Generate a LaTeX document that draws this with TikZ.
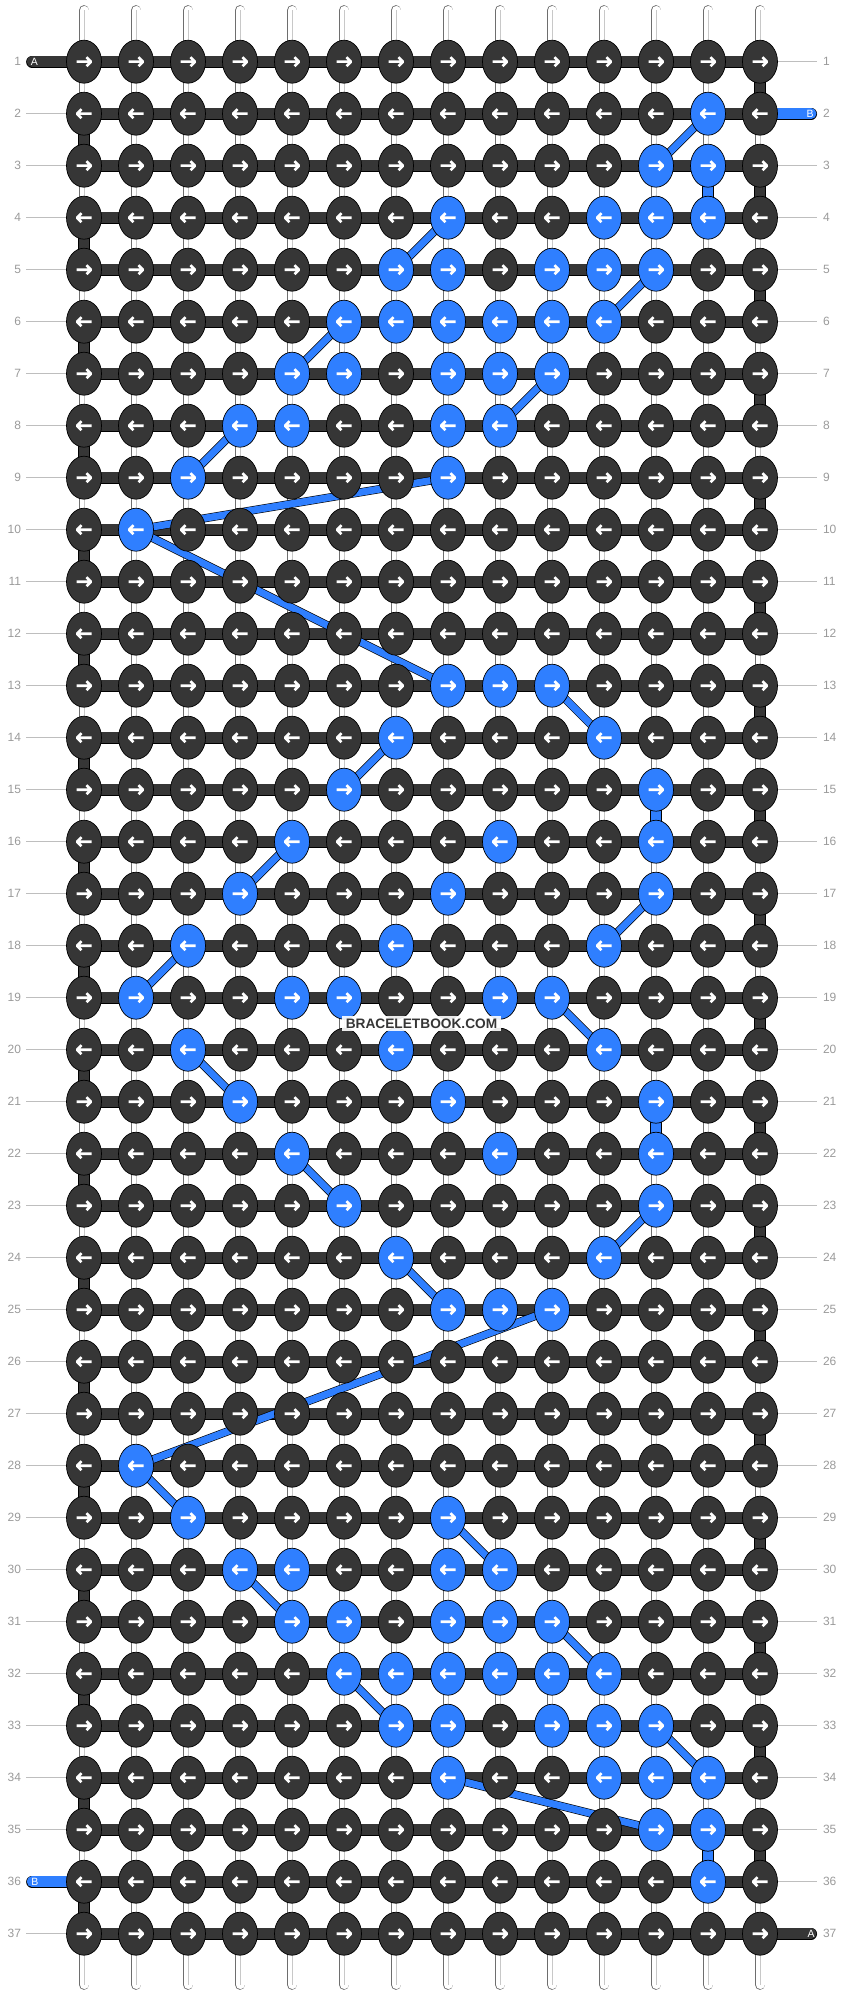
\documentclass[tikz,border=0pt]{standalone}
\usepackage{fontspec}
\setmainfont{Liberation Sans}
\usetikzlibrary{shapes.geometric,backgrounds}

\definecolor{bbdark}{HTML}{363636}
\definecolor{bbblue}{HTML}{2F7FFF}
\definecolor{bbnum}{HTML}{9A9A9A}
\definecolor{bbguide}{HTML}{BEBEBE}
\definecolor{bbwarp}{HTML}{6E6E6E}
\definecolor{bbcore}{HTML}{C8C8C8}

% knots that show the blue string: row/column
\foreach \row/\col in {2/12, 3/11,3/12, 4/7,4/10,4/11,4/12, 5/6,5/7,5/9,5/10,5/11,
    6/5,6/6,6/7,6/8,6/9,6/10, 7/4,7/5,7/7,7/8,7/9, 8/3,8/4,8/7,8/8, 9/2,9/7, 10/1,
    13/7,13/8,13/9, 14/6,14/10, 15/5,15/11, 16/4,16/8,16/11, 17/3,17/7,17/11,
    18/2,18/6,18/10, 19/1,19/4,19/5,19/8,19/9, 20/2,20/6,20/10, 21/3,21/7,21/11,
    22/4,22/8,22/11, 23/5,23/11, 24/6,24/10, 25/7,25/8,25/9,
    28/1, 29/2,29/7, 30/3,30/4,30/7,30/8, 31/4,31/5,31/7,31/8,31/9,
    32/5,32/6,32/7,32/8,32/9,32/10, 33/6,33/7,33/9,33/10,33/11,
    34/7,34/10,34/11,34/12, 35/11,35/12, 36/12}
  {\expandafter\gdef\csname bk-\row-\col\endcsname{}}

\begin{document}
\begin{tikzpicture}[x=1pt, y=-1pt,
    knot/.style={ellipse, draw=black, line width=0.7pt, minimum width=35pt,
      minimum height=43pt, inner sep=0pt},
    arrowline/.style={white, line width=2.6pt, line join=round},
    rarrow/.style={path picture={
      \draw[arrowline, shift={(path picture bounding box.center)}]
        (-7.5,0) -- (7,0) (2.5,-4.5) -- (7,0) -- (2.5,4.5);}},
    larrow/.style={path picture={
      \draw[arrowline, shift={(path picture bounding box.center)}]
        (7.5,0) -- (-7,0) (-2.5,-4.5) -- (-7,0) -- (-2.5,4.5);}},
    darkbar/.style={draw=black, line width=0.6pt, double=bbdark, double distance=10.5pt},
    bluebar/.style={draw=black, line width=0.6pt, double=bbblue, double distance=10.5pt},
    bluelink/.style={draw=black, line width=0.6pt, double=bbblue, double distance=7pt},
    warp/.style={draw=bbwarp, line width=0.8pt, double=white, double distance=9pt, line cap=round},
    warpcore/.style={draw=bbcore, line width=0.8pt},
    guide/.style={draw=bbguide, line width=1pt},
    rownum/.style={text=bbnum, inner sep=0pt, font=\fontsize{12pt}{14pt}\selectfont},
    endtag/.style={text=white, inner sep=0pt, font=\fontsize{10.5pt}{12pt}\selectfont},
    watermark/.style={fill=white, fill opacity=0.9, text opacity=1, text=bbdark,
      inner xsep=4pt, inner ysep=3pt, font=\bfseries\fontsize{13.7pt}{16pt}\selectfont}
  ]
  \useasboundingbox (0,0) rectangle (844,1996);

  % knots
  \foreach \row in {1,...,37}{
    \foreach \col in {0,...,13}{
      \ifcsname bk-\row-\col\endcsname \colorlet{kfill}{bbblue}\else \colorlet{kfill}{bbdark}\fi
      \ifodd\row \tikzset{kdir/.style={rarrow}}\else \tikzset{kdir/.style={larrow}}\fi
      \node[knot, fill=kfill, kdir] (k-\row-\col) at ({84+52*\col},{61.7+52*(\row-1)}) {};
    }
  }

  % row numbers
  \foreach \row in {1,...,37}{
    \node[rownum, anchor=east, outer sep=5pt] (nl-\row) at (26,{61.7+52*(\row-1)}) {\row};
    \node[rownum, anchor=west, outer sep=6pt] (nr-\row) at (817,{61.7+52*(\row-1)}) {\row};
  }
  \foreach \row in {2,...,35,37}
    \draw[guide] (nl-\row) -- (k-\row-0);
  \foreach \row in {1,3,4,...,36}
    \draw[guide] (k-\row-13) -- (nr-\row);

  \begin{pgfonlayer}{background}
    % vertical strings
    \foreach \col in {0,...,13}{
      \coordinate (top-\col) at ({84+52*\col},10.4);
      \coordinate (bot-\col) at ({84+52*\col},1984.6);
      \draw[warp] (top-\col) -- (bot-\col);
      \draw[warpcore] (top-\col) -- (bot-\col);
    }
    % rows of string A
    \foreach \row in {1,...,37}
      \draw[darkbar] (k-\row-0.center) -- (k-\row-13.center);
    % turns of string A at the edges
    \foreach \row/\rowbelow in {1/2,3/4,5/6,7/8,9/10,11/12,13/14,15/16,17/18,
        19/20,21/22,23/24,25/26,27/28,29/30,31/32,33/34,35/36}
      \draw[darkbar] (k-\row-13.center) -- (k-\rowbelow-13.center);
    \foreach \row/\rowbelow in {2/3,4/5,6/7,8/9,10/11,12/13,14/15,16/17,18/19,
        20/21,22/23,24/25,26/27,28/29,30/31,32/33,34/35,36/37}
      \draw[darkbar] (k-\row-0.center) -- (k-\rowbelow-0.center);
    % loose ends
    \coordinate (a-in) at (32,61.7);
    \coordinate (a-out) at (811.2,1933.7);
    \coordinate (b-in) at (811.2,113.7);
    \coordinate (b-out) at (32,1881.7);
    \draw[darkbar, line cap=round] (a-in) -- (k-1-0.center);
    \draw[darkbar, line cap=round] (k-37-13.center) -- (a-out);
    \draw[bluebar, line cap=round] (b-in) -- (k-2-13.center);
    \draw[bluebar, line cap=round] (k-36-0.center) -- (b-out);
    % string B
    \foreach \fr/\fc/\tr in {3/12/4, 15/11/16, 21/11/22, 35/12/36}
      \draw[bluebar] (k-\fr-\fc.center) -- (k-\tr-\fc.center);
    \foreach \fr/\fc/\tr/\tc in {2/12/3/11, 4/7/5/6, 5/11/6/10, 6/5/7/4, 7/9/8/8, 8/3/9/2,
        9/7/10/1, 10/1/13/7, 13/9/14/10, 14/6/15/5, 16/4/17/3, 17/11/18/10, 18/2/19/1,
        19/9/20/10, 20/2/21/3, 22/4/23/5, 23/11/24/10, 24/6/25/7, 25/9/28/1, 28/1/29/2,
        29/7/30/8, 30/3/31/4, 31/9/32/10, 32/5/33/6, 33/11/34/12, 34/7/35/11}
      \draw[bluelink] (k-\fr-\fc.center) -- (k-\tr-\tc.center);
  \end{pgfonlayer}

  \node[endtag] (tag-a-in) at (34.5,61.7) {A};
  \node[endtag] (tag-a-out) at (811,1933.7) {A};
  \node[endtag] (tag-b-in) at (810,113.7) {B};
  \node[endtag] (tag-b-out) at (35,1881.7) {B};

  \node[watermark] (mark) at (421.5,1023.5) {BRACELETBOOK.COM};
\end{tikzpicture}
\end{document}
